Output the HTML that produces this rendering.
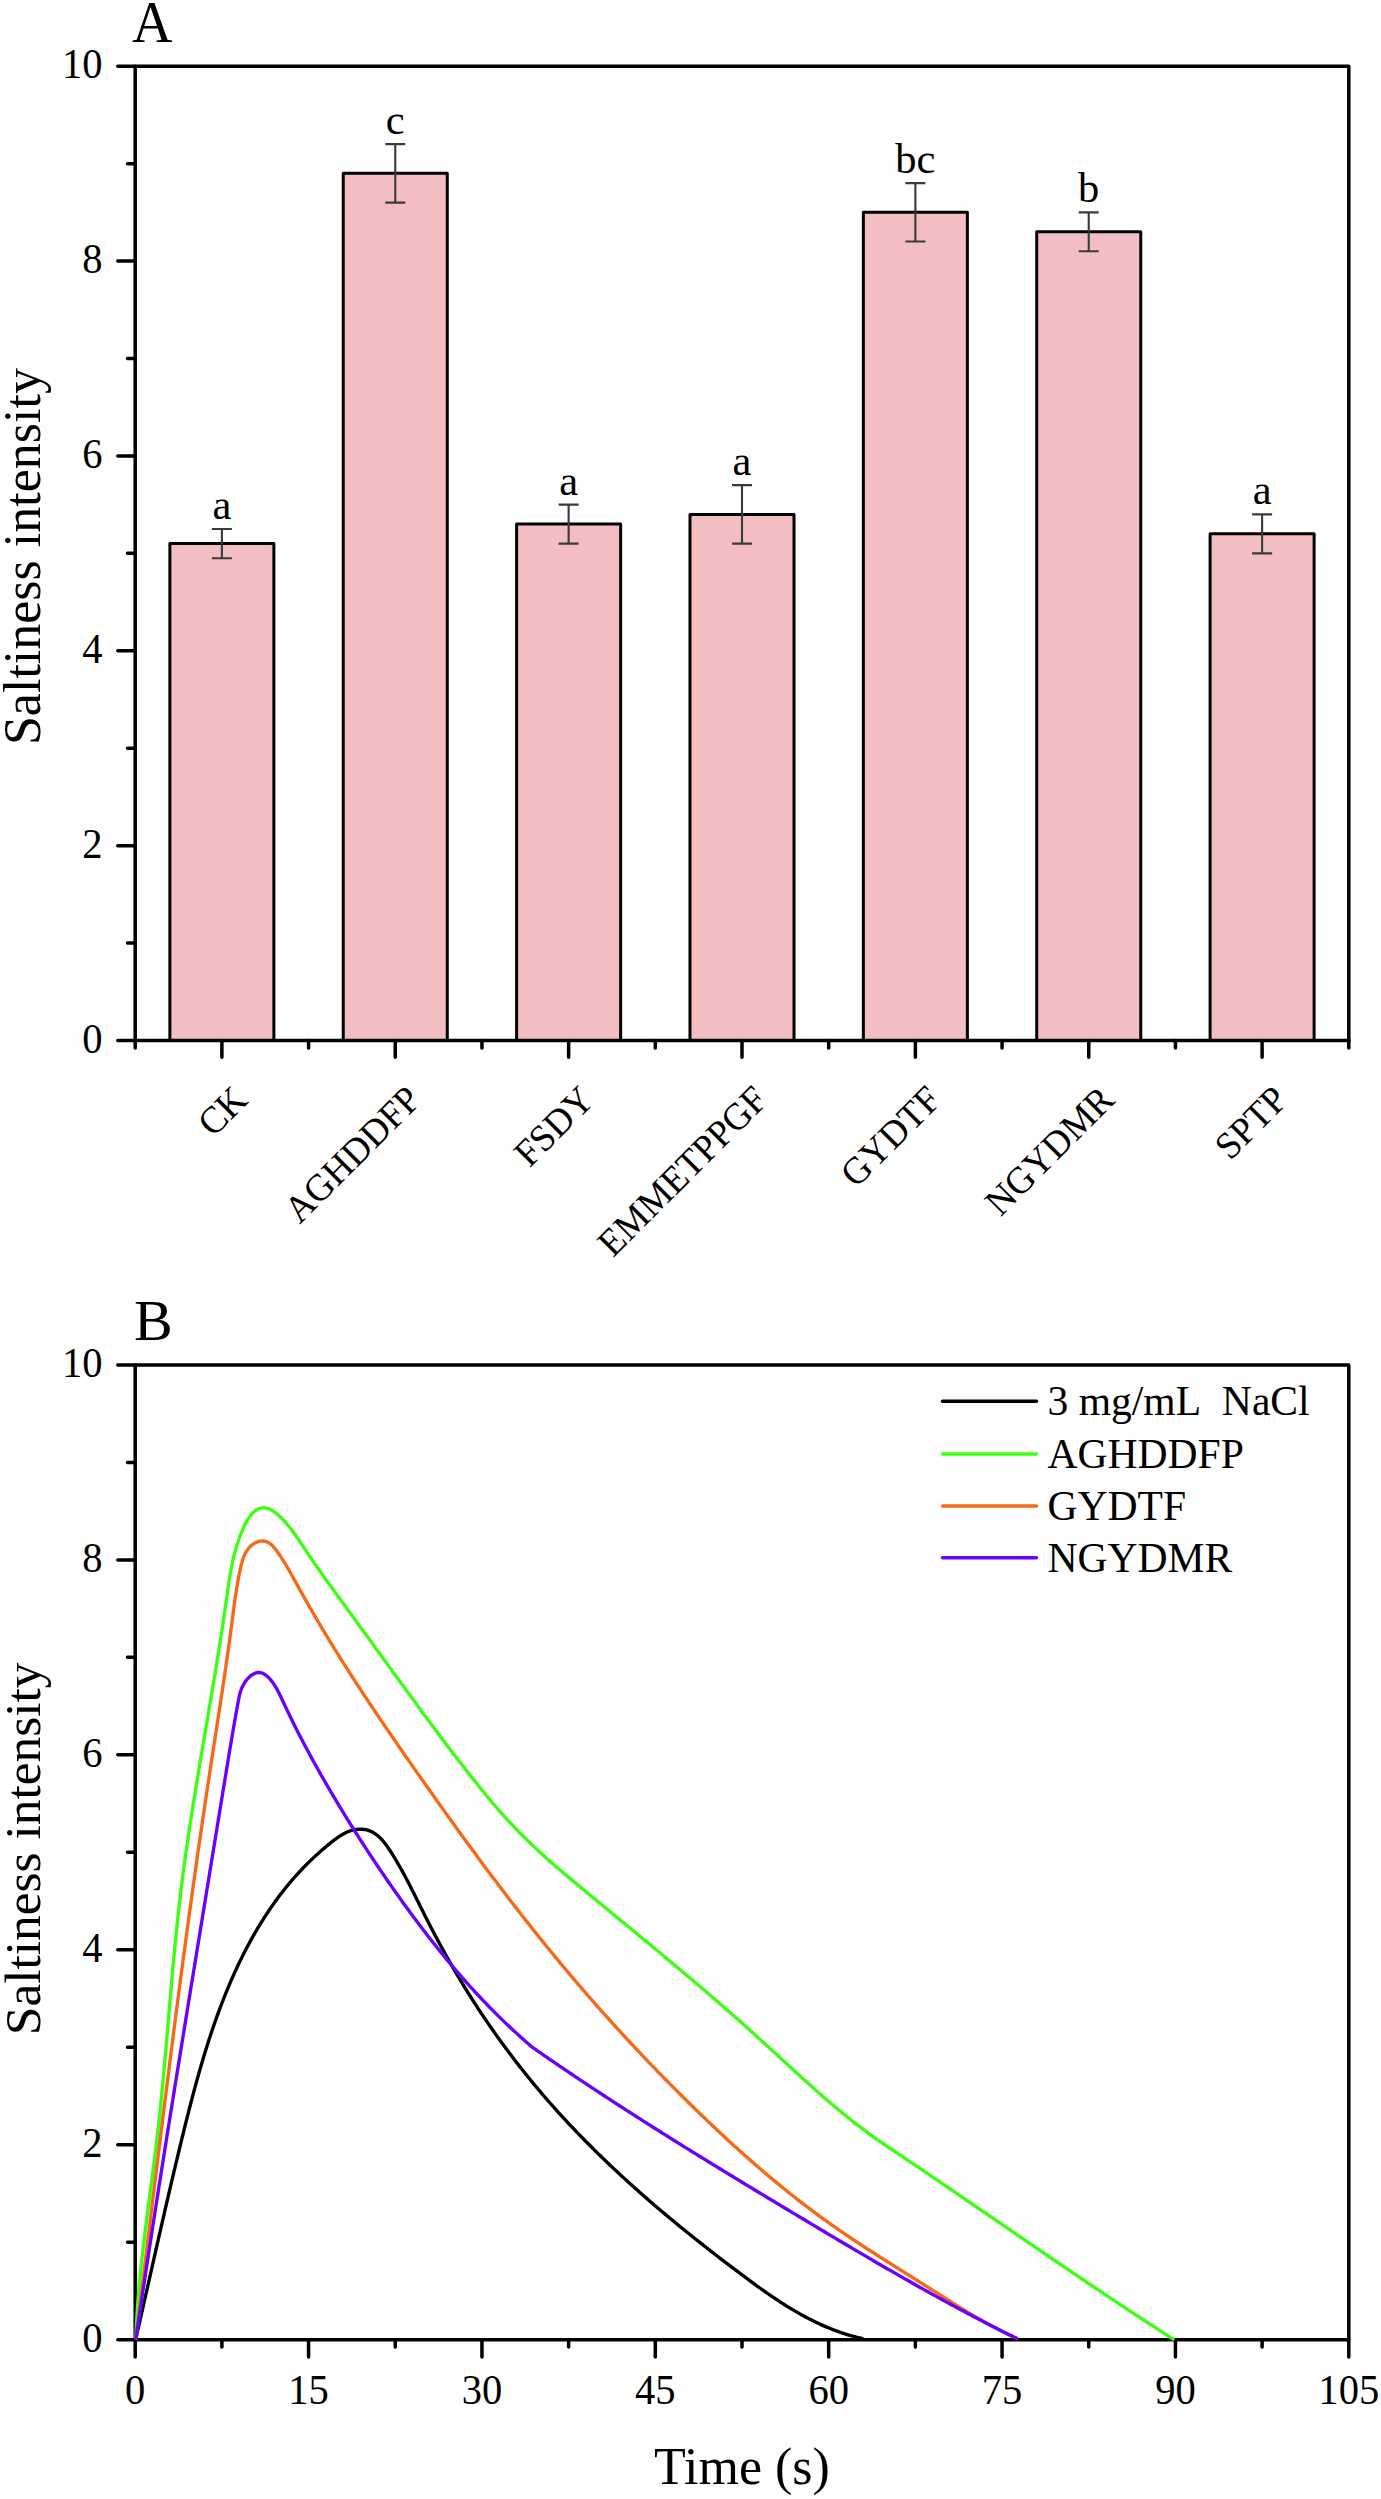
<!DOCTYPE html><html><head><meta charset="utf-8"><style>html,body{margin:0;padding:0;background:#fff;}svg{display:block;}text{font-family:"Liberation Serif", serif;fill:#000;}</style></head><body>
<svg width="1381" height="2499" viewBox="0 0 1381 2499">
<rect width="1381" height="2499" fill="#fefefe"/>
<g id="chartA">
<rect x="169.87" y="543.61" width="104.02" height="496.89" fill="#f2bec2" stroke="#000" stroke-width="3.0" stroke-linejoin="round"/>
<rect x="343.25" y="173.37" width="104.02" height="867.13" fill="#f2bec2" stroke="#000" stroke-width="3.0" stroke-linejoin="round"/>
<rect x="516.62" y="524.12" width="104.02" height="516.38" fill="#f2bec2" stroke="#000" stroke-width="3.0" stroke-linejoin="round"/>
<rect x="689.99" y="514.38" width="104.02" height="526.12" fill="#f2bec2" stroke="#000" stroke-width="3.0" stroke-linejoin="round"/>
<rect x="863.36" y="212.35" width="104.02" height="828.15" fill="#f2bec2" stroke="#000" stroke-width="3.0" stroke-linejoin="round"/>
<rect x="1036.73" y="231.83" width="104.02" height="808.67" fill="#f2bec2" stroke="#000" stroke-width="3.0" stroke-linejoin="round"/>
<rect x="1210.10" y="533.86" width="104.02" height="506.64" fill="#f2bec2" stroke="#000" stroke-width="3.0" stroke-linejoin="round"/>
<path d="M211.89 528.99H231.89M221.89 528.99V558.22M211.89 558.22H231.89" stroke="#3a3a3a" stroke-width="2.1" fill="none"/>
<text x="221.89" y="518.99" font-size="42.5" text-anchor="middle">a</text>
<path d="M385.26 144.14H405.26M395.26 144.14V202.60M385.26 202.60H405.26" stroke="#3a3a3a" stroke-width="2.1" fill="none"/>
<text x="395.26" y="134.14" font-size="42.5" text-anchor="middle">c</text>
<path d="M558.63 504.63H578.63M568.63 504.63V543.61M558.63 543.61H578.63" stroke="#3a3a3a" stroke-width="2.1" fill="none"/>
<text x="568.63" y="494.63" font-size="42.5" text-anchor="middle">a</text>
<path d="M732.00 485.15H752.00M742.00 485.15V543.61M732.00 543.61H752.00" stroke="#3a3a3a" stroke-width="2.1" fill="none"/>
<text x="742.00" y="475.15" font-size="42.5" text-anchor="middle">a</text>
<path d="M905.37 183.12H925.37M915.37 183.12V241.57M905.37 241.57H925.37" stroke="#3a3a3a" stroke-width="2.1" fill="none"/>
<text x="915.37" y="173.12" font-size="42.5" text-anchor="middle">bc</text>
<path d="M1078.74 212.35H1098.74M1088.74 212.35V251.32M1078.74 251.32H1098.74" stroke="#3a3a3a" stroke-width="2.1" fill="none"/>
<text x="1088.74" y="202.35" font-size="42.5" text-anchor="middle">b</text>
<path d="M1252.11 514.38H1272.11M1262.11 514.38V553.35M1252.11 553.35H1272.11" stroke="#3a3a3a" stroke-width="2.1" fill="none"/>
<text x="1262.11" y="504.38" font-size="42.5" text-anchor="middle">a</text>
<path d="M135.2 66.2H1348.8V1040.5H135.2Z" fill="none" stroke="#000" stroke-width="3.5" stroke-linejoin="round"/>
<path d="M117.80 1040.50H135.2M127.50 943.07H135.2M117.80 845.64H135.2M127.50 748.21H135.2M117.80 650.78H135.2M127.50 553.35H135.2M117.80 455.92H135.2M127.50 358.49H135.2M117.80 261.06H135.2M127.50 163.63H135.2M117.80 66.20H135.2M221.89 1040.5V1057.30M395.26 1040.5V1057.30M568.63 1040.5V1057.30M742.00 1040.5V1057.30M915.37 1040.5V1057.30M1088.74 1040.5V1057.30M1262.11 1040.5V1057.30M135.20 1040.5V1047.90M308.57 1040.5V1047.90M481.94 1040.5V1047.90M655.31 1040.5V1047.90M828.69 1040.5V1047.90M1002.06 1040.5V1047.90M1175.43 1040.5V1047.90M1348.80 1040.5V1047.90" stroke="#000" stroke-width="3.5" stroke-linecap="round" fill="none"/>
<text transform="translate(102.5 1052.50) scale(0.955 1)" font-size="42.5" text-anchor="end">0</text>
<text transform="translate(102.5 857.64) scale(0.955 1)" font-size="42.5" text-anchor="end">2</text>
<text transform="translate(102.5 662.78) scale(0.955 1)" font-size="42.5" text-anchor="end">4</text>
<text transform="translate(102.5 467.92) scale(0.955 1)" font-size="42.5" text-anchor="end">6</text>
<text transform="translate(102.5 273.06) scale(0.955 1)" font-size="42.5" text-anchor="end">8</text>
<text transform="translate(102.5 78.20) scale(0.955 1)" font-size="42.5" text-anchor="end">10</text>
<text transform="translate(249.39 1101.80) rotate(-45) scale(0.97 1)" font-size="38" text-anchor="end">CK</text>
<text transform="translate(422.76 1101.80) rotate(-45) scale(0.97 1)" font-size="38" text-anchor="end">AGHDDFP</text>
<text transform="translate(596.13 1101.80) rotate(-45) scale(0.97 1)" font-size="38" text-anchor="end">FSDY</text>
<text transform="translate(769.50 1101.80) rotate(-45) scale(0.97 1)" font-size="38" text-anchor="end">EMMETPPGF</text>
<text transform="translate(942.87 1101.80) rotate(-45) scale(0.97 1)" font-size="38" text-anchor="end">GYDTF</text>
<text transform="translate(1116.24 1101.80) rotate(-45) scale(0.97 1)" font-size="38" text-anchor="end">NGYDMR</text>
<text transform="translate(1289.61 1101.80) rotate(-45) scale(0.97 1)" font-size="38" text-anchor="end">SPTP</text>
<text transform="translate(40 556.55) rotate(-90)" font-size="52" text-anchor="middle">Saltiness intensity</text>
<text transform="translate(132 42) scale(0.96 1)" font-size="58.5">A</text>
</g>
<g id="chartB">
<path d="M135.2 1364.9H1348.8V2339.8H135.2Z" fill="none" stroke="#000" stroke-width="3.5" stroke-linejoin="round"/>
<path d="M117.80 2339.80H135.2M127.50 2242.31H135.2M117.80 2144.82H135.2M127.50 2047.33H135.2M117.80 1949.84H135.2M127.50 1852.35H135.2M117.80 1754.86H135.2M127.50 1657.37H135.2M117.80 1559.88H135.2M127.50 1462.39H135.2M117.80 1364.90H135.2M135.20 2339.8V2357.00M221.89 2339.8V2347.00M308.57 2339.8V2357.00M395.26 2339.8V2347.00M481.94 2339.8V2357.00M568.63 2339.8V2347.00M655.31 2339.8V2357.00M742.00 2339.8V2347.00M828.69 2339.8V2357.00M915.37 2339.8V2347.00M1002.06 2339.8V2357.00M1088.74 2339.8V2347.00M1175.43 2339.8V2357.00M1262.11 2339.8V2347.00M1348.80 2339.8V2357.00" stroke="#000" stroke-width="3.5" stroke-linecap="round" fill="none"/>
<text transform="translate(102.5 2351.80) scale(0.955 1)" font-size="42.5" text-anchor="end">0</text>
<text transform="translate(102.5 2156.82) scale(0.955 1)" font-size="42.5" text-anchor="end">2</text>
<text transform="translate(102.5 1961.84) scale(0.955 1)" font-size="42.5" text-anchor="end">4</text>
<text transform="translate(102.5 1766.86) scale(0.955 1)" font-size="42.5" text-anchor="end">6</text>
<text transform="translate(102.5 1571.88) scale(0.955 1)" font-size="42.5" text-anchor="end">8</text>
<text transform="translate(102.5 1376.90) scale(0.955 1)" font-size="42.5" text-anchor="end">10</text>
<text transform="translate(135.20 2404) scale(0.955 1)" font-size="42.5" text-anchor="middle">0</text>
<text transform="translate(308.57 2404) scale(0.955 1)" font-size="42.5" text-anchor="middle">15</text>
<text transform="translate(481.94 2404) scale(0.955 1)" font-size="42.5" text-anchor="middle">30</text>
<text transform="translate(655.31 2404) scale(0.955 1)" font-size="42.5" text-anchor="middle">45</text>
<text transform="translate(828.69 2404) scale(0.955 1)" font-size="42.5" text-anchor="middle">60</text>
<text transform="translate(1002.06 2404) scale(0.955 1)" font-size="42.5" text-anchor="middle">75</text>
<text transform="translate(1175.43 2404) scale(0.955 1)" font-size="42.5" text-anchor="middle">90</text>
<text transform="translate(1348.80 2404) scale(0.955 1)" font-size="42.5" text-anchor="middle">105</text>
<text x="742.00" y="2484" font-size="52" text-anchor="middle">Time (s)</text>
<text transform="translate(39.5 1848.85) rotate(-90)" font-size="51.4" text-anchor="middle">Saltiness intensity</text>
<text x="134" y="1340" font-size="58">B</text>
<path d="M136.00 2338.00 L136.56 2335.54 L137.12 2333.08 L137.68 2330.62 L138.24 2328.16 L138.80 2325.71 L139.36 2323.26 L139.91 2320.80 L140.47 2318.35 L141.03 2315.90 L141.58 2313.45 L142.14 2311.01 L142.69 2308.56 L143.24 2306.12 L143.79 2303.67 L144.35 2301.23 L144.90 2298.79 L145.45 2296.35 L146.00 2293.91 L146.55 2291.47 L147.10 2289.03 L147.65 2286.60 L148.20 2284.16 L148.75 2281.73 L149.30 2279.30 L149.85 2276.86 L150.40 2274.43 L150.95 2272.00 L151.49 2269.57 L152.04 2267.14 L152.59 2264.71 L153.14 2262.29 L153.69 2259.86 L154.24 2257.43 L154.79 2255.01 L155.34 2252.58 L155.89 2250.16 L156.44 2247.73 L156.99 2245.31 L157.54 2242.88 L158.09 2240.46 L158.64 2238.04 L159.19 2235.62 L159.74 2233.19 L160.29 2230.77 L160.84 2228.35 L161.40 2225.93 L161.95 2223.51 L162.50 2221.09 L163.06 2218.67 L163.61 2216.25 L164.17 2213.83 L164.73 2211.40 L165.28 2208.98 L165.84 2206.56 L166.40 2204.14 L166.96 2201.72 L167.52 2199.30 L168.08 2196.88 L168.64 2194.46 L169.21 2192.04 L169.77 2189.62 L170.34 2187.20 L170.90 2184.78 L171.47 2182.35 L172.04 2179.93 L172.61 2177.51 L173.18 2175.09 L173.75 2172.66 L174.32 2170.24 L174.90 2167.82 L175.47 2165.39 L176.05 2162.96 L176.63 2160.54 L177.21 2158.11 L177.79 2155.69 L178.37 2153.26 L178.96 2150.83 L179.54 2148.40 L180.13 2145.97 L180.72 2143.54 L181.31 2141.11 L181.90 2138.68 L182.49 2136.24 L183.09 2133.81 L183.69 2131.38 L184.29 2128.94 L184.89 2126.51 L185.49 2124.07 L186.10 2121.63 L186.71 2119.20 L187.32 2116.76 L187.94 2114.33 L188.56 2111.89 L189.18 2109.46 L189.80 2107.02 L190.43 2104.59 L191.06 2102.15 L191.70 2099.72 L192.34 2097.29 L192.98 2094.85 L193.63 2092.42 L194.28 2089.99 L194.93 2087.57 L195.59 2085.14 L196.26 2082.71 L196.93 2080.29 L197.60 2077.86 L198.28 2075.44 L198.96 2073.02 L199.65 2070.60 L200.35 2068.19 L201.05 2065.77 L201.75 2063.36 L202.47 2060.95 L203.18 2058.54 L203.91 2056.13 L204.63 2053.73 L205.37 2051.33 L206.11 2048.93 L206.86 2046.53 L207.61 2044.14 L208.38 2041.75 L209.15 2039.36 L209.92 2036.98 L210.70 2034.60 L211.49 2032.22 L212.29 2029.84 L213.09 2027.47 L213.91 2025.11 L214.73 2022.74 L215.56 2020.38 L216.39 2018.03 L217.24 2015.67 L218.09 2013.32 L218.95 2010.98 L219.82 2008.64 L220.70 2006.30 L221.58 2003.97 L222.48 2001.64 L223.38 1999.32 L224.30 1997.00 L225.22 1994.69 L226.15 1992.38 L227.10 1990.08 L228.05 1987.78 L229.01 1985.49 L229.98 1983.20 L230.96 1980.92 L231.95 1978.64 L232.96 1976.37 L233.97 1974.10 L234.99 1971.84 L236.03 1969.58 L237.07 1967.33 L238.13 1965.09 L239.19 1962.85 L240.27 1960.62 L241.36 1958.40 L242.46 1956.18 L243.57 1953.97 L244.70 1951.76 L245.83 1949.56 L246.98 1947.37 L248.14 1945.18 L249.31 1943.01 L250.50 1940.83 L251.70 1938.67 L252.91 1936.51 L254.13 1934.36 L255.37 1932.22 L256.61 1930.08 L257.88 1927.96 L259.15 1925.84 L260.44 1923.73 L261.74 1921.62 L263.06 1919.53 L264.39 1917.44 L265.73 1915.37 L267.09 1913.30 L268.47 1911.24 L269.85 1909.19 L271.26 1907.15 L272.67 1905.12 L274.10 1903.10 L275.55 1901.08 L277.01 1899.08 L278.49 1897.09 L279.99 1895.11 L281.50 1893.14 L283.02 1891.18 L284.56 1889.23 L286.12 1887.29 L287.69 1885.36 L289.28 1883.44 L290.89 1881.53 L292.52 1879.64 L294.16 1877.76 L295.81 1875.89 L297.49 1874.03 L299.18 1872.18 L300.89 1870.34 L302.62 1868.52 L304.37 1866.71 L306.13 1864.91 L307.91 1863.13 L309.71 1861.36 L311.53 1859.60 L313.36 1857.85 L315.22 1856.12 L317.09 1854.40 L318.99 1852.70 L320.90 1851.00 L322.83 1849.33 L324.78 1847.66 L326.75 1846.01 L328.74 1844.38 L330.76 1842.76 L332.79 1841.16 L334.84 1839.59 L336.92 1838.06 L339.02 1836.60 L341.16 1835.23 L343.33 1833.95 L345.54 1832.79 L347.78 1831.76 L350.07 1830.88 L352.40 1830.17 L354.77 1829.64 L357.18 1829.30 L359.60 1829.16 L362.01 1829.21 L364.40 1829.47 L366.74 1829.93 L369.02 1830.60 L371.21 1831.47 L373.31 1832.56 L375.32 1833.83 L377.24 1835.28 L379.09 1836.88 L380.86 1838.62 L382.57 1840.48 L384.21 1842.44 L385.80 1844.50 L387.33 1846.62 L388.82 1848.79 L390.28 1850.99 L391.69 1853.22 L393.08 1855.44 L394.44 1857.66 L395.77 1859.88 L397.09 1862.10 L398.37 1864.31 L399.64 1866.52 L400.89 1868.72 L402.11 1870.92 L403.32 1873.12 L404.51 1875.32 L405.69 1877.51 L406.85 1879.71 L408.00 1881.90 L409.13 1884.09 L410.26 1886.28 L411.38 1888.46 L412.48 1890.65 L413.59 1892.84 L414.68 1895.02 L415.77 1897.21 L416.86 1899.39 L417.95 1901.58 L419.03 1903.77 L420.11 1905.95 L421.20 1908.14 L422.29 1910.33 L423.38 1912.52 L424.48 1914.71 L425.59 1916.91 L426.70 1919.10 L427.82 1921.30 L428.94 1923.50 L430.08 1925.70 L431.22 1927.90 L432.36 1930.10 L433.52 1932.30 L434.68 1934.50 L435.84 1936.71 L437.01 1938.91 L438.19 1941.11 L439.38 1943.31 L440.57 1945.51 L441.77 1947.71 L442.98 1949.91 L444.19 1952.10 L445.41 1954.30 L446.63 1956.49 L447.86 1958.68 L449.10 1960.87 L450.34 1963.05 L451.59 1965.24 L452.85 1967.42 L454.11 1969.59 L455.38 1971.77 L456.65 1973.93 L457.93 1976.10 L459.22 1978.26 L460.51 1980.42 L461.81 1982.57 L463.11 1984.72 L464.42 1986.86 L465.74 1989.00 L467.06 1991.14 L468.38 1993.27 L469.72 1995.39 L471.05 1997.51 L472.40 1999.63 L473.75 2001.74 L475.11 2003.85 L476.47 2005.95 L477.83 2008.05 L479.21 2010.14 L480.59 2012.23 L481.97 2014.32 L483.36 2016.39 L484.76 2018.47 L486.16 2020.54 L487.57 2022.61 L488.98 2024.67 L490.40 2026.72 L491.83 2028.77 L493.26 2030.82 L494.70 2032.86 L496.14 2034.90 L497.59 2036.93 L499.04 2038.96 L500.50 2040.98 L501.97 2043.00 L503.44 2045.02 L504.92 2047.03 L506.40 2049.03 L507.89 2051.03 L509.38 2053.03 L510.88 2055.02 L512.39 2057.00 L513.90 2058.98 L515.42 2060.96 L516.94 2062.93 L518.47 2064.90 L520.00 2066.86 L521.54 2068.82 L523.09 2070.77 L524.64 2072.72 L526.20 2074.67 L527.76 2076.60 L529.33 2078.54 L530.90 2080.47 L532.48 2082.39 L534.07 2084.31 L535.66 2086.23 L537.26 2088.14 L538.86 2090.04 L540.46 2091.94 L542.08 2093.84 L543.70 2095.73 L545.32 2097.62 L546.95 2099.50 L548.59 2101.38 L550.23 2103.25 L551.88 2105.12 L553.53 2106.98 L555.19 2108.84 L556.85 2110.69 L558.52 2112.54 L560.19 2114.38 L561.87 2116.22 L563.56 2118.06 L565.25 2119.89 L566.94 2121.71 L568.64 2123.53 L570.35 2125.35 L572.06 2127.16 L573.77 2128.97 L575.49 2130.77 L577.22 2132.57 L578.95 2134.37 L580.68 2136.15 L582.42 2137.94 L584.17 2139.72 L585.92 2141.50 L587.67 2143.27 L589.43 2145.04 L591.19 2146.80 L592.96 2148.56 L594.74 2150.32 L596.51 2152.07 L598.29 2153.82 L600.08 2155.56 L601.87 2157.30 L603.67 2159.03 L605.47 2160.77 L607.27 2162.49 L609.08 2164.22 L610.89 2165.93 L612.71 2167.65 L614.53 2169.36 L616.35 2171.07 L618.18 2172.77 L620.01 2174.47 L621.85 2176.17 L623.69 2177.86 L625.53 2179.54 L627.38 2181.23 L629.23 2182.91 L631.09 2184.59 L632.95 2186.26 L634.81 2187.93 L636.68 2189.59 L638.55 2191.25 L640.42 2192.91 L642.30 2194.57 L644.18 2196.22 L646.06 2197.87 L647.95 2199.51 L649.84 2201.15 L651.73 2202.79 L653.63 2204.42 L655.53 2206.05 L657.43 2207.68 L659.34 2209.30 L661.25 2210.92 L663.16 2212.54 L665.08 2214.15 L667.00 2215.76 L668.92 2217.36 L670.85 2218.97 L672.77 2220.57 L674.71 2222.16 L676.64 2223.76 L678.57 2225.35 L680.51 2226.93 L682.46 2228.52 L684.40 2230.10 L686.35 2231.68 L688.30 2233.25 L690.25 2234.82 L692.20 2236.39 L694.16 2237.96 L696.12 2239.52 L698.08 2241.08 L700.04 2242.64 L702.01 2244.19 L703.98 2245.74 L705.95 2247.29 L707.92 2248.84 L709.89 2250.38 L711.87 2251.92 L713.85 2253.46 L715.83 2254.99 L717.81 2256.52 L719.80 2258.05 L721.78 2259.58 L723.77 2261.10 L725.76 2262.62 L727.75 2264.14 L729.75 2265.66 L731.74 2267.17 L733.74 2268.68 L735.74 2270.19 L737.74 2271.70 L739.74 2273.20 L741.74 2274.70 L743.74 2276.20 L745.75 2277.69 L747.76 2279.18 L749.77 2280.67 L751.79 2282.15 L753.80 2283.62 L755.82 2285.09 L757.85 2286.56 L759.88 2288.01 L761.91 2289.46 L763.94 2290.90 L765.99 2292.33 L768.03 2293.75 L770.08 2295.17 L772.14 2296.57 L774.20 2297.96 L776.27 2299.34 L778.35 2300.71 L780.43 2302.07 L782.52 2303.41 L784.61 2304.74 L786.72 2306.06 L788.83 2307.36 L790.94 2308.65 L793.07 2309.92 L795.21 2311.18 L797.35 2312.42 L799.50 2313.65 L801.66 2314.85 L803.84 2316.04 L806.02 2317.21 L808.21 2318.37 L810.41 2319.50 L812.62 2320.61 L814.85 2321.70 L817.08 2322.78 L819.33 2323.83 L821.58 2324.86 L823.85 2325.86 L826.13 2326.84 L828.43 2327.80 L830.73 2328.74 L833.05 2329.65 L835.39 2330.54 L837.73 2331.40 L840.09 2332.24 L842.47 2333.04 L844.86 2333.83 L847.26 2334.58 L849.68 2335.31 L852.11 2336.00 L854.56 2336.67 L857.02 2337.31 L859.50 2337.92 L862.00 2338.50" fill="none" stroke="#000000" stroke-width="3.35" stroke-linejoin="round" stroke-linecap="round"/>
<path d="M136.00 2338.00 L136.07 2335.50 L136.16 2333.01 L136.25 2330.52 L136.35 2328.02 L136.46 2325.53 L136.58 2323.04 L136.70 2320.54 L136.83 2318.05 L136.97 2315.56 L137.12 2313.07 L137.28 2310.58 L137.44 2308.09 L137.61 2305.60 L137.78 2303.11 L137.97 2300.62 L138.15 2298.13 L138.35 2295.64 L138.55 2293.16 L138.76 2290.67 L138.97 2288.18 L139.19 2285.69 L139.42 2283.21 L139.65 2280.72 L139.89 2278.23 L140.13 2275.75 L140.37 2273.26 L140.63 2270.78 L140.88 2268.29 L141.14 2265.81 L141.41 2263.32 L141.68 2260.84 L141.95 2258.36 L142.23 2255.87 L142.51 2253.39 L142.80 2250.90 L143.08 2248.42 L143.38 2245.94 L143.67 2243.46 L143.97 2240.97 L144.27 2238.49 L144.57 2236.01 L144.88 2233.53 L145.19 2231.04 L145.50 2228.56 L145.81 2226.08 L146.13 2223.60 L146.45 2221.12 L146.77 2218.64 L147.09 2216.15 L147.41 2213.67 L147.73 2211.19 L148.05 2208.71 L148.38 2206.23 L148.71 2203.75 L149.03 2201.27 L149.36 2198.79 L149.69 2196.31 L150.01 2193.82 L150.34 2191.34 L150.67 2188.86 L150.99 2186.38 L151.32 2183.90 L151.65 2181.42 L151.97 2178.94 L152.30 2176.46 L152.62 2173.98 L152.94 2171.50 L153.26 2169.01 L153.58 2166.53 L153.90 2164.05 L154.21 2161.57 L154.53 2159.09 L154.84 2156.61 L155.15 2154.13 L155.45 2151.64 L155.76 2149.16 L156.06 2146.68 L156.36 2144.20 L156.65 2141.71 L156.95 2139.23 L157.24 2136.75 L157.52 2134.27 L157.80 2131.78 L158.08 2129.30 L158.36 2126.82 L158.63 2124.33 L158.90 2121.85 L159.17 2119.37 L159.44 2116.88 L159.70 2114.40 L159.96 2111.91 L160.22 2109.43 L160.47 2106.94 L160.73 2104.46 L160.98 2101.97 L161.22 2099.49 L161.47 2097.00 L161.71 2094.52 L161.96 2092.03 L162.20 2089.55 L162.43 2087.06 L162.67 2084.58 L162.90 2082.09 L163.14 2079.61 L163.37 2077.12 L163.60 2074.64 L163.82 2072.15 L164.05 2069.66 L164.27 2067.18 L164.50 2064.69 L164.72 2062.21 L164.94 2059.72 L165.16 2057.23 L165.38 2054.75 L165.60 2052.26 L165.81 2049.78 L166.03 2047.29 L166.25 2044.80 L166.46 2042.32 L166.68 2039.83 L166.89 2037.34 L167.10 2034.86 L167.31 2032.37 L167.53 2029.88 L167.74 2027.40 L167.95 2024.91 L168.16 2022.42 L168.37 2019.94 L168.59 2017.45 L168.80 2014.97 L169.01 2012.48 L169.22 2009.99 L169.43 2007.51 L169.65 2005.02 L169.86 2002.53 L170.07 2000.05 L170.28 1997.56 L170.50 1995.08 L170.71 1992.59 L170.93 1990.10 L171.15 1987.62 L171.36 1985.13 L171.58 1982.65 L171.80 1980.16 L172.02 1977.67 L172.24 1975.19 L172.47 1972.70 L172.69 1970.22 L172.91 1967.73 L173.14 1965.25 L173.37 1962.76 L173.60 1960.28 L173.83 1957.79 L174.06 1955.31 L174.30 1952.82 L174.53 1950.34 L174.77 1947.85 L175.01 1945.37 L175.26 1942.89 L175.50 1940.40 L175.75 1937.92 L176.00 1935.43 L176.25 1932.95 L176.50 1930.47 L176.76 1927.98 L177.01 1925.50 L177.27 1923.02 L177.54 1920.53 L177.80 1918.05 L178.07 1915.57 L178.34 1913.09 L178.62 1910.60 L178.90 1908.12 L179.18 1905.64 L179.46 1903.16 L179.75 1900.68 L180.04 1898.20 L180.33 1895.71 L180.63 1893.23 L180.93 1890.75 L181.23 1888.27 L181.54 1885.79 L181.85 1883.31 L182.16 1880.83 L182.48 1878.35 L182.80 1875.87 L183.12 1873.39 L183.45 1870.91 L183.78 1868.44 L184.12 1865.96 L184.45 1863.48 L184.79 1861.00 L185.13 1858.52 L185.48 1856.05 L185.83 1853.57 L186.18 1851.09 L186.53 1848.61 L186.88 1846.14 L187.24 1843.66 L187.60 1841.18 L187.97 1838.71 L188.33 1836.23 L188.70 1833.76 L189.07 1831.28 L189.44 1828.81 L189.82 1826.33 L190.20 1823.86 L190.58 1821.38 L190.96 1818.91 L191.34 1816.43 L191.72 1813.96 L192.11 1811.49 L192.50 1809.01 L192.89 1806.54 L193.28 1804.07 L193.68 1801.60 L194.07 1799.12 L194.47 1796.65 L194.87 1794.18 L195.27 1791.71 L195.67 1789.24 L196.07 1786.77 L196.48 1784.30 L196.88 1781.83 L197.29 1779.36 L197.69 1776.89 L198.10 1774.42 L198.51 1771.95 L198.92 1769.48 L199.33 1767.01 L199.75 1764.54 L200.16 1762.07 L200.57 1759.60 L200.99 1757.13 L201.40 1754.67 L201.82 1752.20 L202.23 1749.73 L202.65 1747.27 L203.07 1744.80 L203.48 1742.33 L203.90 1739.87 L204.32 1737.40 L204.74 1734.94 L205.15 1732.47 L205.57 1730.01 L205.99 1727.54 L206.41 1725.08 L206.83 1722.61 L207.24 1720.15 L207.66 1717.68 L208.08 1715.22 L208.50 1712.76 L208.91 1710.30 L209.33 1707.83 L209.74 1705.37 L210.16 1702.91 L210.57 1700.45 L210.99 1697.99 L211.40 1695.52 L211.81 1693.06 L212.23 1690.60 L212.64 1688.14 L213.05 1685.68 L213.45 1683.22 L213.86 1680.76 L214.27 1678.31 L214.68 1675.85 L215.08 1673.39 L215.48 1670.93 L215.89 1668.47 L216.29 1666.01 L216.69 1663.56 L217.08 1661.10 L217.48 1658.64 L217.87 1656.19 L218.27 1653.73 L218.66 1651.28 L219.05 1648.82 L219.44 1646.36 L219.82 1643.91 L220.21 1641.46 L220.59 1639.00 L220.97 1636.55 L221.35 1634.09 L221.72 1631.64 L222.10 1629.19 L222.47 1626.73 L222.84 1624.28 L223.20 1621.83 L223.57 1619.38 L223.93 1616.93 L224.29 1614.48 L224.65 1612.03 L225.00 1609.57 L225.35 1607.12 L225.70 1604.67 L226.05 1602.23 L226.39 1599.78 L226.73 1597.33 L227.07 1594.88 L227.42 1592.43 L227.76 1589.98 L228.11 1587.54 L228.47 1585.09 L228.83 1582.64 L229.21 1580.20 L229.60 1577.75 L230.00 1575.31 L230.42 1572.87 L230.86 1570.43 L231.31 1567.98 L231.79 1565.54 L232.30 1563.11 L232.83 1560.67 L233.38 1558.23 L233.97 1555.80 L234.59 1553.36 L235.24 1550.93 L235.93 1548.50 L236.65 1546.07 L237.42 1543.64 L238.22 1541.21 L239.07 1538.78 L239.96 1536.36 L240.90 1533.94 L241.89 1531.51 L242.93 1529.10 L244.02 1526.68 L245.17 1524.27 L246.39 1521.90 L247.68 1519.61 L249.06 1517.42 L250.54 1515.37 L252.14 1513.50 L253.86 1511.83 L255.71 1510.40 L257.71 1509.25 L259.85 1508.41 L262.08 1507.93 L264.33 1507.84 L266.56 1508.15 L268.78 1508.82 L270.96 1509.79 L273.11 1511.02 L275.22 1512.48 L277.28 1514.12 L279.28 1515.90 L281.22 1517.78 L283.08 1519.70 L284.88 1521.65 L286.60 1523.61 L288.26 1525.58 L289.87 1527.57 L291.42 1529.56 L292.92 1531.57 L294.39 1533.58 L295.82 1535.60 L297.23 1537.63 L298.61 1539.67 L299.98 1541.70 L301.33 1543.74 L302.68 1545.78 L304.04 1547.83 L305.40 1549.87 L306.77 1551.91 L308.14 1553.95 L309.52 1555.99 L310.92 1558.03 L312.31 1560.07 L313.72 1562.11 L315.13 1564.15 L316.54 1566.19 L317.96 1568.22 L319.39 1570.26 L320.82 1572.30 L322.26 1574.33 L323.70 1576.37 L325.15 1578.40 L326.60 1580.44 L328.06 1582.47 L329.51 1584.51 L330.98 1586.54 L332.44 1588.58 L333.91 1590.61 L335.38 1592.64 L336.85 1594.67 L338.32 1596.70 L339.80 1598.74 L341.27 1600.77 L342.75 1602.80 L344.23 1604.83 L345.71 1606.86 L347.19 1608.89 L348.66 1610.92 L350.14 1612.95 L351.62 1614.98 L353.10 1617.01 L354.57 1619.03 L356.05 1621.06 L357.52 1623.09 L359.00 1625.12 L360.47 1627.15 L361.94 1629.17 L363.41 1631.20 L364.88 1633.22 L366.35 1635.25 L367.82 1637.28 L369.29 1639.30 L370.76 1641.33 L372.22 1643.35 L373.69 1645.38 L375.16 1647.40 L376.62 1649.42 L378.09 1651.45 L379.55 1653.47 L381.02 1655.49 L382.48 1657.51 L383.95 1659.53 L385.41 1661.55 L386.88 1663.57 L388.35 1665.59 L389.81 1667.61 L391.28 1669.63 L392.74 1671.65 L394.21 1673.67 L395.67 1675.68 L397.14 1677.70 L398.61 1679.72 L400.07 1681.73 L401.54 1683.75 L403.01 1685.76 L404.48 1687.78 L405.95 1689.79 L407.42 1691.80 L408.89 1693.82 L410.36 1695.83 L411.84 1697.84 L413.31 1699.85 L414.78 1701.86 L416.26 1703.87 L417.73 1705.88 L419.21 1707.89 L420.69 1709.89 L422.17 1711.90 L423.65 1713.91 L425.13 1715.91 L426.62 1717.92 L428.10 1719.92 L429.59 1721.92 L431.07 1723.93 L432.56 1725.93 L434.05 1727.93 L435.55 1729.93 L437.04 1731.93 L438.54 1733.93 L440.03 1735.93 L441.53 1737.92 L443.03 1739.92 L444.54 1741.92 L446.04 1743.91 L447.55 1745.91 L449.06 1747.90 L450.57 1749.89 L452.08 1751.88 L453.59 1753.88 L455.11 1755.87 L456.63 1757.86 L458.15 1759.84 L459.68 1761.83 L461.20 1763.82 L462.73 1765.80 L464.27 1767.78 L465.80 1769.76 L467.34 1771.74 L468.89 1773.71 L470.43 1775.69 L471.98 1777.65 L473.54 1779.62 L475.10 1781.58 L476.66 1783.54 L478.23 1785.50 L479.80 1787.45 L481.38 1789.39 L482.97 1791.33 L484.56 1793.27 L486.15 1795.20 L487.75 1797.13 L489.36 1799.05 L490.97 1800.97 L492.59 1802.88 L494.21 1804.78 L495.84 1806.68 L497.48 1808.57 L499.12 1810.45 L500.77 1812.33 L502.43 1814.20 L504.10 1816.06 L505.77 1817.91 L507.45 1819.76 L509.14 1821.60 L510.84 1823.43 L512.54 1825.25 L514.26 1827.06 L515.98 1828.87 L517.71 1830.66 L519.45 1832.45 L521.20 1834.23 L522.96 1835.99 L524.73 1837.75 L526.50 1839.49 L528.29 1841.23 L530.08 1842.96 L531.88 1844.68 L533.69 1846.40 L535.50 1848.10 L537.33 1849.80 L539.16 1851.49 L540.99 1853.17 L542.84 1854.84 L544.69 1856.51 L546.54 1858.17 L548.40 1859.83 L550.27 1861.48 L552.14 1863.13 L554.02 1864.76 L555.90 1866.40 L557.79 1868.03 L559.68 1869.65 L561.57 1871.28 L563.47 1872.89 L565.37 1874.51 L567.28 1876.12 L569.19 1877.72 L571.10 1879.33 L573.01 1880.93 L574.93 1882.53 L576.84 1884.13 L578.76 1885.72 L580.68 1887.32 L582.60 1888.91 L584.53 1890.50 L586.45 1892.09 L588.37 1893.69 L590.30 1895.28 L592.22 1896.87 L594.14 1898.46 L596.07 1900.05 L597.99 1901.64 L599.92 1903.23 L601.85 1904.82 L603.77 1906.40 L605.70 1907.99 L607.62 1909.58 L609.55 1911.17 L611.48 1912.76 L613.40 1914.35 L615.33 1915.94 L617.26 1917.53 L619.18 1919.12 L621.11 1920.70 L623.04 1922.29 L624.96 1923.88 L626.89 1925.47 L628.82 1927.06 L630.74 1928.65 L632.67 1930.24 L634.59 1931.83 L636.52 1933.43 L638.44 1935.02 L640.37 1936.61 L642.29 1938.20 L644.22 1939.80 L646.14 1941.39 L648.07 1942.98 L649.99 1944.58 L651.91 1946.17 L653.83 1947.77 L655.75 1949.37 L657.67 1950.96 L659.60 1952.56 L661.51 1954.16 L663.43 1955.76 L665.35 1957.36 L667.27 1958.96 L669.19 1960.56 L671.10 1962.17 L673.02 1963.77 L674.93 1965.38 L676.85 1966.98 L678.76 1968.59 L680.67 1970.20 L682.58 1971.81 L684.49 1973.42 L686.40 1975.03 L688.31 1976.64 L690.22 1978.26 L692.12 1979.87 L694.03 1981.49 L695.93 1983.11 L697.84 1984.72 L699.74 1986.35 L701.64 1987.97 L703.54 1989.59 L705.44 1991.22 L707.33 1992.84 L709.23 1994.47 L711.12 1996.10 L713.01 1997.73 L714.91 1999.36 L716.80 2001.00 L718.68 2002.63 L720.57 2004.27 L722.46 2005.91 L724.34 2007.55 L726.22 2009.20 L728.10 2010.84 L729.98 2012.49 L731.86 2014.14 L733.74 2015.79 L735.61 2017.44 L737.48 2019.09 L739.36 2020.75 L741.22 2022.41 L743.09 2024.07 L744.96 2025.73 L746.82 2027.40 L748.68 2029.07 L750.54 2030.74 L752.40 2032.41 L754.26 2034.08 L756.11 2035.76 L757.96 2037.44 L759.81 2039.12 L761.66 2040.80 L763.51 2042.49 L765.35 2044.17 L767.20 2045.86 L769.04 2047.55 L770.88 2049.24 L772.72 2050.93 L774.56 2052.62 L776.40 2054.32 L778.24 2056.01 L780.08 2057.70 L781.92 2059.40 L783.76 2061.09 L785.60 2062.78 L787.44 2064.47 L789.28 2066.16 L791.12 2067.85 L792.96 2069.54 L794.81 2071.23 L796.65 2072.92 L798.50 2074.60 L800.35 2076.28 L802.20 2077.96 L804.05 2079.64 L805.90 2081.32 L807.76 2082.99 L809.62 2084.66 L811.48 2086.32 L813.34 2087.99 L815.21 2089.65 L817.08 2091.30 L818.95 2092.96 L820.83 2094.60 L822.71 2096.25 L824.59 2097.89 L826.48 2099.52 L828.37 2101.15 L830.26 2102.78 L832.16 2104.40 L834.07 2106.01 L835.98 2107.62 L837.89 2109.22 L839.81 2110.82 L841.74 2112.41 L843.67 2113.99 L845.60 2115.57 L847.54 2117.14 L849.49 2118.71 L851.44 2120.26 L853.40 2121.81 L855.37 2123.35 L857.34 2124.89 L859.32 2126.41 L861.30 2127.93 L863.29 2129.44 L865.29 2130.94 L867.30 2132.44 L869.31 2133.92 L871.33 2135.40 L873.36 2136.86 L875.40 2138.32 L877.45 2139.76 L879.50 2141.20L879.50 2141.20 L881.57 2142.58 L883.65 2143.97 L885.72 2145.35 L887.79 2146.74 L889.86 2148.12 L891.93 2149.51 L894.00 2150.90 L896.07 2152.29 L898.14 2153.68 L900.21 2155.07 L902.28 2156.46 L904.34 2157.85 L906.41 2159.25 L908.48 2160.64 L910.54 2162.04 L912.61 2163.43 L914.67 2164.83 L916.74 2166.22 L918.80 2167.62 L920.87 2169.02 L922.93 2170.42 L924.99 2171.82 L927.05 2173.22 L929.12 2174.62 L931.18 2176.02 L933.24 2177.42 L935.30 2178.82 L937.36 2180.22 L939.42 2181.63 L941.48 2183.03 L943.54 2184.43 L945.60 2185.84 L947.66 2187.24 L949.72 2188.65 L951.78 2190.05 L953.83 2191.46 L955.89 2192.86 L957.95 2194.27 L960.01 2195.68 L962.06 2197.08 L964.12 2198.49 L966.18 2199.90 L968.24 2201.31 L970.29 2202.71 L972.35 2204.12 L974.41 2205.53 L976.46 2206.94 L978.52 2208.35 L980.57 2209.76 L982.63 2211.17 L984.69 2212.57 L986.74 2213.98 L988.80 2215.39 L990.85 2216.80 L992.91 2218.21 L994.97 2219.62 L997.02 2221.03 L999.08 2222.44 L1001.13 2223.85 L1003.19 2225.26 L1005.25 2226.67 L1007.30 2228.08 L1009.36 2229.48 L1011.41 2230.89 L1013.47 2232.30 L1015.53 2233.71 L1017.58 2235.12 L1019.64 2236.53 L1021.70 2237.93 L1023.75 2239.34 L1025.81 2240.75 L1027.87 2242.16 L1029.93 2243.56 L1031.98 2244.97 L1034.04 2246.38 L1036.10 2247.78 L1038.16 2249.19 L1040.22 2250.59 L1042.28 2252.00 L1044.33 2253.40 L1046.39 2254.81 L1048.45 2256.21 L1050.51 2257.61 L1052.57 2259.02 L1054.63 2260.42 L1056.70 2261.82 L1058.76 2263.22 L1060.82 2264.62 L1062.88 2266.02 L1064.94 2267.42 L1067.01 2268.82 L1069.07 2270.22 L1071.13 2271.62 L1073.20 2273.02 L1075.26 2274.41 L1077.33 2275.81 L1079.39 2277.20 L1081.46 2278.60 L1083.52 2279.99 L1085.59 2281.38 L1087.66 2282.78 L1089.73 2284.17 L1091.79 2285.56 L1093.86 2286.95 L1095.93 2288.34 L1098.00 2289.73 L1100.07 2291.11 L1102.14 2292.50 L1104.22 2293.89 L1106.29 2295.27 L1108.36 2296.65 L1110.44 2298.04 L1112.51 2299.42 L1114.59 2300.80 L1116.66 2302.18 L1118.74 2303.56 L1120.81 2304.94 L1122.89 2306.31 L1124.97 2307.69 L1127.05 2309.06 L1129.13 2310.44 L1131.21 2311.81 L1133.29 2313.18 L1135.37 2314.55 L1137.46 2315.92 L1139.54 2317.29 L1141.63 2318.66 L1143.71 2320.02 L1145.80 2321.39 L1147.88 2322.75 L1149.97 2324.11 L1152.06 2325.47 L1154.15 2326.83 L1156.24 2328.19 L1158.33 2329.54 L1160.43 2330.90 L1162.52 2332.25 L1164.61 2333.60 L1166.71 2334.96 L1168.80 2336.31 L1170.90 2337.65 L1173.00 2339.00" fill="none" stroke="#3cff14" stroke-width="3.35" stroke-linejoin="round" stroke-linecap="round"/>
<path d="M136.00 2338.00 L136.30 2335.52 L136.60 2333.03 L136.90 2330.55 L137.21 2328.06 L137.51 2325.58 L137.81 2323.10 L138.11 2320.61 L138.41 2318.13 L138.72 2315.65 L139.02 2313.16 L139.32 2310.68 L139.62 2308.20 L139.92 2305.72 L140.22 2303.23 L140.52 2300.75 L140.82 2298.27 L141.13 2295.79 L141.43 2293.30 L141.73 2290.82 L142.03 2288.34 L142.33 2285.86 L142.63 2283.37 L142.93 2280.89 L143.23 2278.41 L143.53 2275.93 L143.83 2273.45 L144.14 2270.96 L144.44 2268.48 L144.74 2266.00 L145.04 2263.52 L145.34 2261.04 L145.64 2258.56 L145.94 2256.08 L146.24 2253.59 L146.54 2251.11 L146.84 2248.63 L147.15 2246.15 L147.45 2243.67 L147.75 2241.19 L148.05 2238.71 L148.35 2236.23 L148.65 2233.75 L148.95 2231.27 L149.25 2228.79 L149.55 2226.31 L149.86 2223.83 L150.16 2221.35 L150.46 2218.86 L150.76 2216.38 L151.06 2213.90 L151.37 2211.42 L151.67 2208.94 L151.97 2206.46 L152.27 2203.98 L152.57 2201.50 L152.88 2199.02 L153.18 2196.55 L153.48 2194.07 L153.78 2191.59 L154.09 2189.11 L154.39 2186.63 L154.69 2184.15 L155.00 2181.67 L155.30 2179.19 L155.60 2176.71 L155.91 2174.23 L156.21 2171.75 L156.51 2169.27 L156.82 2166.79 L157.12 2164.31 L157.43 2161.83 L157.73 2159.36 L158.04 2156.88 L158.34 2154.40 L158.65 2151.92 L158.95 2149.44 L159.26 2146.96 L159.56 2144.48 L159.87 2142.00 L160.17 2139.53 L160.48 2137.05 L160.79 2134.57 L161.09 2132.09 L161.40 2129.61 L161.71 2127.13 L162.01 2124.65 L162.32 2122.18 L162.63 2119.70 L162.94 2117.22 L163.25 2114.74 L163.55 2112.26 L163.86 2109.78 L164.17 2107.31 L164.48 2104.83 L164.79 2102.35 L165.10 2099.87 L165.41 2097.39 L165.72 2094.92 L166.03 2092.44 L166.34 2089.96 L166.65 2087.48 L166.96 2085.00 L167.28 2082.53 L167.59 2080.05 L167.90 2077.57 L168.21 2075.09 L168.52 2072.62 L168.84 2070.14 L169.15 2067.66 L169.46 2065.18 L169.78 2062.70 L170.09 2060.23 L170.41 2057.75 L170.72 2055.27 L171.04 2052.79 L171.35 2050.32 L171.67 2047.84 L171.99 2045.36 L172.30 2042.88 L172.62 2040.41 L172.94 2037.93 L173.25 2035.45 L173.57 2032.97 L173.89 2030.50 L174.21 2028.02 L174.53 2025.54 L174.85 2023.06 L175.17 2020.59 L175.49 2018.11 L175.81 2015.63 L176.13 2013.15 L176.45 2010.68 L176.77 2008.20 L177.10 2005.72 L177.42 2003.24 L177.74 2000.77 L178.07 1998.29 L178.39 1995.81 L178.71 1993.33 L179.04 1990.86 L179.36 1988.38 L179.69 1985.90 L180.02 1983.43 L180.34 1980.95 L180.67 1978.47 L181.00 1975.99 L181.32 1973.52 L181.65 1971.04 L181.98 1968.56 L182.31 1966.08 L182.64 1963.61 L182.97 1961.13 L183.30 1958.65 L183.63 1956.17 L183.96 1953.70 L184.30 1951.22 L184.63 1948.74 L184.96 1946.26 L185.30 1943.79 L185.63 1941.31 L185.96 1938.83 L186.30 1936.35 L186.64 1933.88 L186.97 1931.40 L187.31 1928.92 L187.65 1926.44 L187.98 1923.96 L188.32 1921.49 L188.66 1919.01 L189.00 1916.53 L189.34 1914.05 L189.68 1911.58 L190.02 1909.10 L190.36 1906.62 L190.71 1904.14 L191.05 1901.66 L191.39 1899.19 L191.74 1896.71 L192.08 1894.23 L192.42 1891.75 L192.77 1889.28 L193.12 1886.80 L193.46 1884.32 L193.81 1881.84 L194.16 1879.36 L194.51 1876.88 L194.86 1874.41 L195.21 1871.93 L195.56 1869.45 L195.91 1866.97 L196.26 1864.49 L196.61 1862.02 L196.96 1859.54 L197.32 1857.06 L197.67 1854.58 L198.03 1852.10 L198.38 1849.62 L198.74 1847.14 L199.09 1844.67 L199.45 1842.19 L199.81 1839.71 L200.17 1837.23 L200.53 1834.75 L200.89 1832.27 L201.25 1829.79 L201.61 1827.31 L201.97 1824.84 L202.34 1822.36 L202.70 1819.88 L203.06 1817.40 L203.43 1814.92 L203.79 1812.44 L204.16 1809.96 L204.53 1807.48 L204.89 1805.00 L205.26 1802.52 L205.63 1800.04 L206.00 1797.56 L206.37 1795.08 L206.74 1792.60 L207.12 1790.13 L207.49 1787.65 L207.86 1785.17 L208.24 1782.69 L208.61 1780.21 L208.99 1777.73 L209.36 1775.25 L209.74 1772.77 L210.12 1770.29 L210.50 1767.81 L210.88 1765.33 L211.26 1762.85 L211.64 1760.37 L212.02 1757.89 L212.40 1755.41 L212.78 1752.93 L213.16 1750.45 L213.54 1747.97 L213.92 1745.50 L214.30 1743.02 L214.68 1740.54 L215.06 1738.07 L215.44 1735.59 L215.82 1733.11 L216.20 1730.64 L216.58 1728.16 L216.96 1725.69 L217.34 1723.22 L217.72 1720.75 L218.10 1718.27 L218.48 1715.80 L218.85 1713.33 L219.23 1710.86 L219.61 1708.39 L219.98 1705.93 L220.36 1703.46 L220.73 1700.99 L221.10 1698.53 L221.47 1696.07 L221.85 1693.60 L222.22 1691.14 L222.58 1688.68 L222.95 1686.22 L223.32 1683.76 L223.68 1681.31 L224.05 1678.85 L224.41 1676.39 L224.77 1673.94 L225.13 1671.49 L225.49 1669.04 L225.84 1666.59 L226.20 1664.14 L226.55 1661.69 L226.90 1659.25 L227.25 1656.81 L227.60 1654.36 L227.95 1651.92 L228.29 1649.48 L228.63 1647.05 L228.97 1644.61 L229.31 1642.18 L229.65 1639.74 L229.98 1637.31 L230.31 1634.89 L230.64 1632.46 L230.97 1630.03 L231.29 1627.61 L231.61 1625.19 L231.93 1622.77 L232.25 1620.35 L232.57 1617.94 L232.88 1615.52 L233.19 1613.11 L233.51 1610.69 L233.82 1608.27 L234.14 1605.85 L234.47 1603.42 L234.81 1600.99 L235.15 1598.54 L235.50 1596.09 L235.87 1593.63 L236.25 1591.15 L236.64 1588.66 L237.05 1586.16 L237.48 1583.64 L237.92 1581.10 L238.39 1578.55 L238.88 1575.97 L239.39 1573.38 L239.93 1570.76 L240.50 1568.12 L241.12 1565.49 L241.81 1562.89 L242.57 1560.33 L243.43 1557.83 L244.41 1555.42 L245.51 1553.11 L246.76 1550.93 L248.18 1548.90 L249.77 1547.03 L251.56 1545.34 L253.54 1543.87 L255.70 1542.65 L257.95 1541.72 L260.26 1541.15 L262.57 1540.97 L264.82 1541.22 L266.99 1541.88 L269.03 1542.94 L270.94 1544.34 L272.73 1546.03 L274.43 1547.93 L276.05 1549.98 L277.60 1552.11 L279.10 1554.26 L280.56 1556.42 L281.98 1558.58 L283.36 1560.74 L284.71 1562.91 L286.03 1565.08 L287.32 1567.25 L288.59 1569.43 L289.84 1571.61 L291.06 1573.78 L292.28 1575.96 L293.48 1578.14 L294.68 1580.32 L295.87 1582.49 L297.06 1584.67 L298.25 1586.84 L299.45 1589.02 L300.65 1591.19 L301.86 1593.35 L303.07 1595.52 L304.28 1597.68 L305.50 1599.85 L306.72 1602.01 L307.95 1604.17 L309.18 1606.32 L310.42 1608.48 L311.66 1610.63 L312.91 1612.78 L314.15 1614.93 L315.41 1617.08 L316.67 1619.22 L317.93 1621.37 L319.19 1623.51 L320.46 1625.65 L321.74 1627.79 L323.02 1629.92 L324.30 1632.06 L325.58 1634.19 L326.87 1636.32 L328.16 1638.45 L329.46 1640.58 L330.76 1642.71 L332.07 1644.83 L333.37 1646.95 L334.68 1649.07 L336.00 1651.19 L337.32 1653.31 L338.64 1655.43 L339.96 1657.54 L341.29 1659.66 L342.62 1661.77 L343.95 1663.88 L345.29 1665.99 L346.63 1668.09 L347.97 1670.20 L349.32 1672.30 L350.67 1674.41 L352.02 1676.51 L353.38 1678.61 L354.73 1680.71 L356.09 1682.80 L357.46 1684.90 L358.82 1686.99 L360.19 1689.09 L361.56 1691.18 L362.94 1693.27 L364.31 1695.36 L365.69 1697.44 L367.07 1699.53 L368.45 1701.62 L369.84 1703.70 L371.23 1705.78 L372.62 1707.86 L374.01 1709.94 L375.40 1712.02 L376.80 1714.10 L378.20 1716.18 L379.60 1718.25 L381.00 1720.33 L382.41 1722.40 L383.81 1724.47 L385.22 1726.54 L386.63 1728.61 L388.04 1730.68 L389.45 1732.75 L390.87 1734.81 L392.28 1736.88 L393.70 1738.94 L395.12 1741.01 L396.54 1743.07 L397.96 1745.13 L399.39 1747.19 L400.81 1749.25 L402.24 1751.31 L403.66 1753.37 L405.09 1755.42 L406.52 1757.48 L407.95 1759.53 L409.38 1761.59 L410.82 1763.64 L412.25 1765.69 L413.68 1767.75 L415.12 1769.80 L416.55 1771.85 L417.99 1773.90 L419.43 1775.94 L420.87 1777.99 L422.30 1780.04 L423.74 1782.08 L425.18 1784.13 L426.62 1786.17 L428.07 1788.22 L429.51 1790.26 L430.95 1792.30 L432.40 1794.34 L433.84 1796.38 L435.29 1798.42 L436.73 1800.46 L438.18 1802.50 L439.63 1804.54 L441.08 1806.57 L442.53 1808.61 L443.98 1810.64 L445.44 1812.67 L446.89 1814.70 L448.35 1816.73 L449.80 1818.76 L451.26 1820.79 L452.72 1822.82 L454.18 1824.85 L455.64 1826.87 L457.10 1828.90 L458.56 1830.92 L460.03 1832.94 L461.49 1834.96 L462.96 1836.98 L464.43 1839.00 L465.90 1841.02 L467.37 1843.04 L468.84 1845.05 L470.32 1847.07 L471.79 1849.08 L473.27 1851.09 L474.75 1853.10 L476.23 1855.11 L477.71 1857.12 L479.19 1859.13 L480.68 1861.13 L482.16 1863.14 L483.65 1865.14 L485.14 1867.14 L486.63 1869.14 L488.12 1871.14 L489.62 1873.14 L491.11 1875.13 L492.61 1877.13 L494.11 1879.12 L495.61 1881.11 L497.12 1883.11 L498.62 1885.09 L500.13 1887.08 L501.64 1889.07 L503.15 1891.05 L504.66 1893.04 L506.18 1895.02 L507.69 1897.00 L509.21 1898.98 L510.73 1900.96 L512.25 1902.93 L513.78 1904.91 L515.30 1906.88 L516.83 1908.85 L518.36 1910.82 L519.90 1912.79 L521.43 1914.75 L522.97 1916.72 L524.51 1918.68 L526.05 1920.64 L527.59 1922.60 L529.14 1924.56 L530.69 1926.52 L532.24 1928.47 L533.79 1930.43 L535.35 1932.38 L536.91 1934.33 L538.47 1936.28 L540.03 1938.22 L541.59 1940.17 L543.16 1942.11 L544.73 1944.05 L546.31 1945.99 L547.88 1947.93 L549.46 1949.86 L551.04 1951.80 L552.62 1953.73 L554.21 1955.66 L555.79 1957.59 L557.38 1959.51 L558.98 1961.44 L560.57 1963.36 L562.17 1965.28 L563.77 1967.20 L565.38 1969.11 L566.99 1971.03 L568.60 1972.94 L570.21 1974.85 L571.82 1976.76 L573.44 1978.67 L575.06 1980.57 L576.68 1982.47 L578.31 1984.37 L579.94 1986.27 L581.57 1988.17 L583.20 1990.06 L584.84 1991.96 L586.47 1993.85 L588.12 1995.73 L589.76 1997.62 L591.41 1999.51 L593.05 2001.39 L594.71 2003.27 L596.36 2005.15 L598.02 2007.02 L599.68 2008.90 L601.34 2010.77 L603.00 2012.64 L604.67 2014.50 L606.34 2016.37 L608.01 2018.23 L609.68 2020.09 L611.36 2021.95 L613.04 2023.81 L614.72 2025.66 L616.40 2027.52 L618.09 2029.37 L619.78 2031.21 L621.47 2033.06 L623.17 2034.90 L624.86 2036.75 L626.56 2038.58 L628.26 2040.42 L629.97 2042.26 L631.67 2044.09 L633.38 2045.92 L635.09 2047.75 L636.80 2049.57 L638.52 2051.39 L640.24 2053.22 L641.96 2055.03 L643.68 2056.85 L645.41 2058.66 L647.14 2060.48 L648.87 2062.29 L650.60 2064.09 L652.33 2065.90 L654.07 2067.70 L655.81 2069.50 L657.55 2071.30 L659.29 2073.09 L661.04 2074.88 L662.79 2076.68 L664.54 2078.46 L666.29 2080.25 L668.05 2082.03 L669.81 2083.81 L671.57 2085.59 L673.33 2087.37 L675.09 2089.14 L676.86 2090.91 L678.63 2092.68 L680.40 2094.45 L682.17 2096.21 L683.95 2097.97 L685.73 2099.73 L687.51 2101.48 L689.29 2103.24 L691.07 2104.99 L692.86 2106.74 L694.65 2108.48 L696.44 2110.23 L698.23 2111.97 L700.03 2113.71 L701.82 2115.44 L703.62 2117.17 L705.43 2118.90 L707.23 2120.63 L709.04 2122.36 L710.85 2124.08 L712.66 2125.80 L714.47 2127.51 L716.29 2129.22 L718.11 2130.93 L719.93 2132.64 L721.75 2134.34 L723.58 2136.04 L725.41 2137.74 L727.24 2139.43 L729.08 2141.12 L730.92 2142.81 L732.76 2144.49 L734.60 2146.17 L736.45 2147.85 L738.30 2149.52 L740.15 2151.19 L742.01 2152.86 L743.87 2154.52 L745.73 2156.17 L747.60 2157.83 L749.47 2159.48 L751.34 2161.12 L753.21 2162.77 L755.09 2164.40 L756.97 2166.04 L758.86 2167.67 L760.75 2169.29 L762.64 2170.91 L764.53 2172.53 L766.43 2174.14 L768.34 2175.75 L770.24 2177.35 L772.15 2178.95 L774.07 2180.55 L775.98 2182.14 L777.90 2183.72 L779.83 2185.30 L781.76 2186.88 L783.69 2188.45 L785.63 2190.02 L787.57 2191.58 L789.51 2193.14 L791.46 2194.69 L793.41 2196.23 L795.37 2197.78 L797.33 2199.31 L799.30 2200.84 L801.26 2202.37 L803.24 2203.89 L805.21 2205.41 L807.20 2206.92 L809.18 2208.42 L811.17 2209.92 L813.17 2211.42 L815.17 2212.91 L817.17 2214.39 L819.18 2215.87 L821.19 2217.34 L823.21 2218.80 L825.23 2220.26 L827.26 2221.72 L829.29 2223.17 L831.33 2224.61 L833.37 2226.05 L835.42 2227.48 L837.47 2228.90 L839.52 2230.32 L841.58 2231.74 L843.64 2233.15 L845.71 2234.55 L847.78 2235.95 L849.85 2237.34 L851.93 2238.74 L854.01 2240.12 L856.10 2241.50 L858.18 2242.88 L860.27 2244.26 L862.37 2245.63 L864.46 2246.99 L866.56 2248.36 L868.66 2249.72 L870.76 2251.08 L872.87 2252.43 L874.97 2253.78 L877.08 2255.13 L879.19 2256.48 L881.31 2257.82 L883.42 2259.17 L885.53 2260.51 L887.65 2261.85 L889.77 2263.18 L891.88 2264.52 L894.00 2265.85 L896.12 2267.19 L898.24 2268.52 L900.36 2269.85 L902.48 2271.18 L904.60 2272.51 L906.72 2273.84 L908.84 2275.17 L910.96 2276.50 L913.07 2277.83 L915.19 2279.16 L917.31 2280.49 L919.42 2281.82 L921.54 2283.15 L923.65 2284.48 L925.76 2285.82 L927.87 2287.15 L929.98 2288.49 L932.09 2289.83 L934.20 2291.16 L936.30 2292.50 L938.41 2293.84 L940.51 2295.18 L942.62 2296.52 L944.72 2297.85 L946.83 2299.18 L948.94 2300.51 L951.05 2301.84 L953.16 2303.17 L955.27 2304.49 L957.38 2305.81 L959.50 2307.12 L961.62 2308.43 L963.74 2309.73 L965.87 2311.03 L968.00 2312.32 L970.14 2313.60 L972.28 2314.88 L974.42 2316.15 L976.57 2317.41 L978.72 2318.67 L980.89 2319.91 L983.05 2321.15 L985.23 2322.37 L987.41 2323.59 L989.59 2324.80 L991.79 2325.99 L993.99 2327.18 L996.20 2328.35 L998.42 2329.51 L1000.64 2330.66 L1002.88 2331.79 L1005.12 2332.91 L1007.38 2334.02 L1009.64 2335.11 L1011.92 2336.19 L1014.20 2337.25 L1016.50 2338.30" fill="none" stroke="#f46a16" stroke-width="3.35" stroke-linejoin="round" stroke-linecap="round"/>
<path d="M136.00 2338.00 L136.36 2335.53 L136.72 2333.06 L137.08 2330.58 L137.44 2328.11 L137.81 2325.64 L138.17 2323.17 L138.53 2320.70 L138.90 2318.23 L139.26 2315.76 L139.63 2313.28 L139.99 2310.81 L140.36 2308.34 L140.73 2305.87 L141.09 2303.40 L141.46 2300.93 L141.83 2298.46 L142.20 2295.99 L142.57 2293.52 L142.94 2291.05 L143.31 2288.58 L143.68 2286.11 L144.05 2283.64 L144.42 2281.17 L144.79 2278.70 L145.17 2276.23 L145.54 2273.76 L145.91 2271.29 L146.29 2268.82 L146.66 2266.35 L147.04 2263.88 L147.41 2261.41 L147.79 2258.94 L148.16 2256.47 L148.54 2254.00 L148.92 2251.53 L149.30 2249.07 L149.67 2246.60 L150.05 2244.13 L150.43 2241.66 L150.81 2239.19 L151.19 2236.72 L151.57 2234.25 L151.95 2231.78 L152.33 2229.32 L152.71 2226.85 L153.09 2224.38 L153.48 2221.91 L153.86 2219.44 L154.24 2216.97 L154.63 2214.51 L155.01 2212.04 L155.39 2209.57 L155.78 2207.10 L156.16 2204.63 L156.55 2202.16 L156.93 2199.70 L157.32 2197.23 L157.70 2194.76 L158.09 2192.29 L158.48 2189.83 L158.87 2187.36 L159.25 2184.89 L159.64 2182.42 L160.03 2179.96 L160.42 2177.49 L160.81 2175.02 L161.20 2172.55 L161.58 2170.09 L161.97 2167.62 L162.36 2165.15 L162.75 2162.68 L163.15 2160.22 L163.54 2157.75 L163.93 2155.28 L164.32 2152.81 L164.71 2150.35 L165.10 2147.88 L165.50 2145.41 L165.89 2142.95 L166.28 2140.48 L166.67 2138.01 L167.07 2135.55 L167.46 2133.08 L167.85 2130.61 L168.25 2128.14 L168.64 2125.68 L169.04 2123.21 L169.43 2120.74 L169.83 2118.28 L170.22 2115.81 L170.62 2113.34 L171.01 2110.88 L171.41 2108.41 L171.81 2105.94 L172.20 2103.48 L172.60 2101.01 L173.00 2098.54 L173.39 2096.08 L173.79 2093.61 L174.19 2091.14 L174.58 2088.68 L174.98 2086.21 L175.38 2083.74 L175.78 2081.28 L176.18 2078.81 L176.58 2076.34 L176.97 2073.88 L177.37 2071.41 L177.77 2068.94 L178.17 2066.48 L178.57 2064.01 L178.97 2061.54 L179.37 2059.08 L179.77 2056.61 L180.17 2054.14 L180.57 2051.67 L180.97 2049.21 L181.37 2046.74 L181.77 2044.27 L182.17 2041.81 L182.57 2039.34 L182.97 2036.87 L183.37 2034.41 L183.77 2031.94 L184.17 2029.47 L184.57 2027.01 L184.97 2024.54 L185.37 2022.07 L185.77 2019.61 L186.18 2017.14 L186.58 2014.67 L186.98 2012.21 L187.38 2009.74 L187.78 2007.27 L188.18 2004.80 L188.58 2002.34 L188.99 1999.87 L189.39 1997.40 L189.79 1994.94 L190.19 1992.47 L190.59 1990.00 L190.99 1987.53 L191.40 1985.07 L191.80 1982.60 L192.20 1980.13 L192.60 1977.66 L193.00 1975.20 L193.41 1972.73 L193.81 1970.26 L194.21 1967.79 L194.61 1965.33 L195.01 1962.86 L195.42 1960.39 L195.82 1957.93 L196.22 1955.46 L196.62 1952.99 L197.02 1950.52 L197.43 1948.06 L197.83 1945.59 L198.23 1943.12 L198.63 1940.65 L199.04 1938.19 L199.44 1935.72 L199.84 1933.25 L200.24 1930.78 L200.64 1928.32 L201.05 1925.85 L201.45 1923.38 L201.85 1920.92 L202.25 1918.45 L202.66 1915.98 L203.06 1913.51 L203.46 1911.05 L203.86 1908.58 L204.27 1906.11 L204.67 1903.65 L205.07 1901.18 L205.47 1898.71 L205.88 1896.25 L206.28 1893.78 L206.68 1891.32 L207.08 1888.85 L207.48 1886.38 L207.89 1883.92 L208.29 1881.45 L208.69 1878.99 L209.09 1876.52 L209.50 1874.05 L209.90 1871.59 L210.30 1869.12 L210.70 1866.66 L211.11 1864.19 L211.51 1861.73 L211.91 1859.26 L212.31 1856.80 L212.72 1854.33 L213.12 1851.87 L213.52 1849.40 L213.92 1846.94 L214.33 1844.48 L214.73 1842.01 L215.13 1839.55 L215.53 1837.08 L215.93 1834.62 L216.34 1832.16 L216.74 1829.69 L217.14 1827.23 L217.54 1824.77 L217.95 1822.30 L218.35 1819.84 L218.75 1817.38 L219.15 1814.92 L219.55 1812.45 L219.96 1809.99 L220.36 1807.53 L220.76 1805.07 L221.16 1802.61 L221.56 1800.15 L221.97 1797.69 L222.37 1795.22 L222.77 1792.76 L223.17 1790.30 L223.57 1787.84 L223.98 1785.38 L224.38 1782.92 L224.78 1780.46 L225.18 1778.00 L225.58 1775.54 L225.99 1773.09 L226.39 1770.63 L226.79 1768.17 L227.20 1765.71 L227.60 1763.25 L228.00 1760.79 L228.41 1758.33 L228.82 1755.88 L229.22 1753.42 L229.63 1750.96 L230.04 1748.50 L230.45 1746.04 L230.87 1743.58 L231.28 1741.12 L231.70 1738.67 L232.11 1736.21 L232.53 1733.75 L232.95 1731.29 L233.38 1728.83 L233.80 1726.37 L234.23 1723.91 L234.66 1721.45 L235.09 1718.99 L235.53 1716.53 L235.97 1714.07 L236.41 1711.61 L236.85 1709.15 L237.30 1706.69 L237.75 1704.23 L238.20 1701.76 L238.66 1699.30 L239.15 1696.84 L239.71 1694.39 L240.38 1691.95 L241.19 1689.53 L242.17 1687.14 L243.37 1684.77 L244.78 1682.46 L246.37 1680.27 L248.12 1678.24 L249.99 1676.44 L251.96 1674.91 L253.99 1673.70 L256.06 1672.87 L258.14 1672.48 L260.21 1672.56 L262.24 1673.11 L264.22 1674.07 L266.15 1675.39 L268.01 1677.01 L269.80 1678.87 L271.51 1680.93 L273.12 1683.11 L274.63 1685.37 L276.03 1687.65 L277.33 1689.93 L278.54 1692.21 L279.69 1694.49 L280.78 1696.76 L281.85 1699.03 L282.90 1701.30 L283.96 1703.56 L285.02 1705.83 L286.09 1708.08 L287.16 1710.33 L288.24 1712.58 L289.33 1714.83 L290.42 1717.07 L291.52 1719.31 L292.62 1721.55 L293.73 1723.78 L294.85 1726.01 L295.97 1728.24 L297.09 1730.46 L298.23 1732.68 L299.36 1734.90 L300.51 1737.11 L301.66 1739.32 L302.81 1741.53 L303.97 1743.73 L305.13 1745.93 L306.30 1748.13 L307.48 1750.33 L308.66 1752.52 L309.84 1754.71 L311.03 1756.90 L312.22 1759.08 L313.42 1761.27 L314.63 1763.45 L315.84 1765.62 L317.05 1767.80 L318.27 1769.97 L319.49 1772.14 L320.72 1774.30 L321.95 1776.47 L323.19 1778.63 L324.43 1780.79 L325.67 1782.95 L326.92 1785.10 L328.18 1787.25 L329.43 1789.40 L330.70 1791.55 L331.96 1793.70 L333.23 1795.84 L334.51 1797.98 L335.78 1800.12 L337.07 1802.26 L338.35 1804.40 L339.64 1806.53 L340.93 1808.66 L342.23 1810.79 L343.53 1812.92 L344.84 1815.05 L346.14 1817.17 L347.45 1819.29 L348.77 1821.41 L350.09 1823.53 L351.41 1825.65 L352.74 1827.76 L354.07 1829.87 L355.40 1831.99 L356.73 1834.09 L358.08 1836.20 L359.42 1838.30 L360.77 1840.41 L362.12 1842.51 L363.47 1844.61 L364.83 1846.70 L366.19 1848.80 L367.56 1850.89 L368.93 1852.98 L370.30 1855.06 L371.68 1857.15 L373.06 1859.23 L374.44 1861.31 L375.83 1863.39 L377.22 1865.47 L378.62 1867.54 L380.02 1869.61 L381.42 1871.68 L382.83 1873.75 L384.24 1875.81 L385.65 1877.87 L387.07 1879.93 L388.49 1881.99 L389.91 1884.04 L391.34 1886.09 L392.77 1888.14 L394.21 1890.19 L395.65 1892.24 L397.09 1894.28 L398.54 1896.32 L399.99 1898.35 L401.44 1900.39 L402.90 1902.42 L404.36 1904.45 L405.83 1906.47 L407.30 1908.49 L408.77 1910.51 L410.25 1912.53 L411.73 1914.54 L413.22 1916.55 L414.71 1918.56 L416.20 1920.56 L417.70 1922.56 L419.21 1924.56 L420.71 1926.55 L422.23 1928.54 L423.74 1930.53 L425.27 1932.51 L426.79 1934.49 L428.32 1936.46 L429.86 1938.43 L431.40 1940.40 L432.94 1942.36 L434.49 1944.32 L436.05 1946.28 L437.61 1948.23 L439.17 1950.17 L440.74 1952.12 L442.32 1954.05 L443.90 1955.99 L445.48 1957.91 L447.08 1959.84 L448.67 1961.76 L450.27 1963.67 L451.88 1965.58 L453.49 1967.49 L455.11 1969.39 L456.73 1971.28 L458.36 1973.18 L459.99 1975.06 L461.63 1976.94 L463.28 1978.82 L464.93 1980.69 L466.59 1982.55 L468.25 1984.41 L469.92 1986.27 L471.59 1988.11 L473.27 1989.96 L474.96 1991.80 L476.65 1993.63 L478.35 1995.45 L480.06 1997.27 L481.77 1999.09 L483.49 2000.90 L485.21 2002.70 L486.94 2004.50 L488.68 2006.29 L490.42 2008.07 L492.17 2009.85 L493.93 2011.63 L495.69 2013.39 L497.46 2015.15 L499.23 2016.91 L501.02 2018.65 L502.81 2020.39 L504.60 2022.13 L506.41 2023.85 L508.22 2025.57 L510.03 2027.29 L511.86 2028.99 L513.69 2030.69 L515.53 2032.39 L517.37 2034.07 L519.22 2035.75 L521.08 2037.42 L522.95 2039.09 L524.83 2040.75 L526.71 2042.39 L528.60 2044.04 L530.50 2045.67 L532.40 2047.30L532.40 2047.30 L534.44 2048.72 L536.48 2050.14 L538.53 2051.56 L540.57 2052.98 L542.62 2054.39 L544.66 2055.80 L546.71 2057.22 L548.76 2058.62 L550.81 2060.03 L552.87 2061.44 L554.92 2062.84 L556.98 2064.24 L559.03 2065.64 L561.09 2067.04 L563.15 2068.43 L565.21 2069.83 L567.27 2071.22 L569.33 2072.61 L571.40 2074.00 L573.46 2075.39 L575.53 2076.77 L577.59 2078.16 L579.66 2079.54 L581.73 2080.92 L583.80 2082.30 L585.87 2083.68 L587.95 2085.05 L590.02 2086.43 L592.09 2087.80 L594.17 2089.17 L596.25 2090.54 L598.33 2091.91 L600.40 2093.27 L602.48 2094.64 L604.57 2096.00 L606.65 2097.36 L608.73 2098.72 L610.82 2100.08 L612.90 2101.44 L614.99 2102.79 L617.08 2104.15 L619.16 2105.50 L621.25 2106.85 L623.34 2108.20 L625.43 2109.55 L627.53 2110.90 L629.62 2112.24 L631.71 2113.59 L633.81 2114.93 L635.90 2116.27 L638.00 2117.61 L640.10 2118.95 L642.20 2120.29 L644.30 2121.62 L646.40 2122.96 L648.50 2124.29 L650.60 2125.63 L652.70 2126.96 L654.81 2128.29 L656.91 2129.62 L659.02 2130.95 L661.12 2132.27 L663.23 2133.60 L665.34 2134.92 L667.44 2136.25 L669.55 2137.57 L671.66 2138.89 L673.77 2140.21 L675.88 2141.53 L678.00 2142.85 L680.11 2144.17 L682.22 2145.48 L684.34 2146.80 L686.45 2148.11 L688.57 2149.43 L690.68 2150.74 L692.80 2152.05 L694.92 2153.36 L697.03 2154.67 L699.15 2155.98 L701.27 2157.28 L703.39 2158.59 L705.51 2159.90 L707.63 2161.20 L709.75 2162.51 L711.88 2163.81 L714.00 2165.11 L716.12 2166.41 L718.25 2167.71 L720.37 2169.01 L722.50 2170.31 L724.62 2171.61 L726.75 2172.91 L728.87 2174.21 L731.00 2175.50 L733.13 2176.80 L735.25 2178.09 L737.38 2179.39 L739.51 2180.68 L741.64 2181.98 L743.77 2183.27 L745.90 2184.56 L748.03 2185.85 L750.16 2187.14 L752.29 2188.43 L754.42 2189.72 L756.56 2191.01 L758.69 2192.30 L760.82 2193.59 L762.95 2194.87 L765.09 2196.16 L767.22 2197.45 L769.35 2198.73 L771.49 2200.02 L773.62 2201.30 L775.76 2202.59 L777.89 2203.87 L780.03 2205.16 L782.16 2206.44 L784.30 2207.72 L786.44 2209.00 L788.57 2210.29 L790.71 2211.57 L792.85 2212.85 L794.98 2214.13 L797.12 2215.41 L799.26 2216.69 L801.40 2217.97 L803.53 2219.25 L805.67 2220.53 L807.81 2221.81 L809.95 2223.09 L812.09 2224.37 L814.22 2225.65 L816.36 2226.93 L818.50 2228.21 L820.64 2229.49 L822.78 2230.76 L824.92 2232.04 L827.06 2233.32 L829.20 2234.59 L831.34 2235.87 L833.49 2237.14 L835.63 2238.41 L837.77 2239.69 L839.91 2240.96 L842.06 2242.23 L844.20 2243.50 L846.34 2244.77 L848.49 2246.04 L850.63 2247.30 L852.78 2248.57 L854.92 2249.84 L857.07 2251.10 L859.22 2252.36 L861.37 2253.63 L863.51 2254.89 L865.66 2256.15 L867.81 2257.41 L869.96 2258.66 L872.12 2259.92 L874.27 2261.18 L876.42 2262.43 L878.57 2263.68 L880.73 2264.93 L882.88 2266.18 L885.04 2267.43 L887.19 2268.68 L889.35 2269.92 L891.51 2271.16 L893.67 2272.41 L895.83 2273.65 L897.99 2274.88 L900.15 2276.12 L902.31 2277.36 L904.48 2278.59 L906.64 2279.82 L908.81 2281.05 L910.98 2282.28 L913.14 2283.50 L915.31 2284.73 L917.48 2285.95 L919.65 2287.17 L921.82 2288.39 L924.00 2289.60 L926.17 2290.81 L928.35 2292.02 L930.52 2293.23 L932.70 2294.44 L934.88 2295.64 L937.06 2296.85 L939.24 2298.05 L941.42 2299.24 L943.61 2300.44 L945.79 2301.63 L947.98 2302.82 L950.17 2304.01 L952.36 2305.19 L954.55 2306.38 L956.74 2307.56 L958.93 2308.73 L961.13 2309.91 L963.32 2311.08 L965.52 2312.25 L967.72 2313.42 L969.92 2314.58 L972.12 2315.74 L974.32 2316.90 L976.53 2318.05 L978.74 2319.20 L980.94 2320.35 L983.15 2321.50 L985.36 2322.64 L987.58 2323.78 L989.79 2324.92 L992.01 2326.05 L994.23 2327.18 L996.45 2328.31 L998.67 2329.43 L1000.89 2330.55 L1003.11 2331.67 L1005.34 2332.78 L1007.57 2333.89 L1009.80 2335.00 L1012.03 2336.10 L1014.26 2337.20 L1016.50 2338.30" fill="none" stroke="#6a00ff" stroke-width="3.35" stroke-linejoin="round" stroke-linecap="round"/>
<path d="M942.5 1401.2H1036.5" stroke="#000000" stroke-width="3.35" stroke-linecap="round"/>
<text transform="translate(1047.5 1415.4) scale(0.99 1)" font-size="42">3 mg/mL  NaCl</text>
<path d="M942.5 1454H1036.5" stroke="#3cff14" stroke-width="3.35" stroke-linecap="round"/>
<text transform="translate(1047.5 1468.2) scale(0.99 1)" font-size="42">AGHDDFP</text>
<path d="M942.5 1506H1036.5" stroke="#f46a16" stroke-width="3.35" stroke-linecap="round"/>
<text transform="translate(1047.5 1520.2) scale(0.99 1)" font-size="42">GYDTF</text>
<path d="M942.5 1557.7H1036.5" stroke="#6a00ff" stroke-width="3.35" stroke-linecap="round"/>
<text transform="translate(1047.5 1571.9) scale(0.99 1)" font-size="42">NGYDMR</text>
</g>
</svg></body></html>
